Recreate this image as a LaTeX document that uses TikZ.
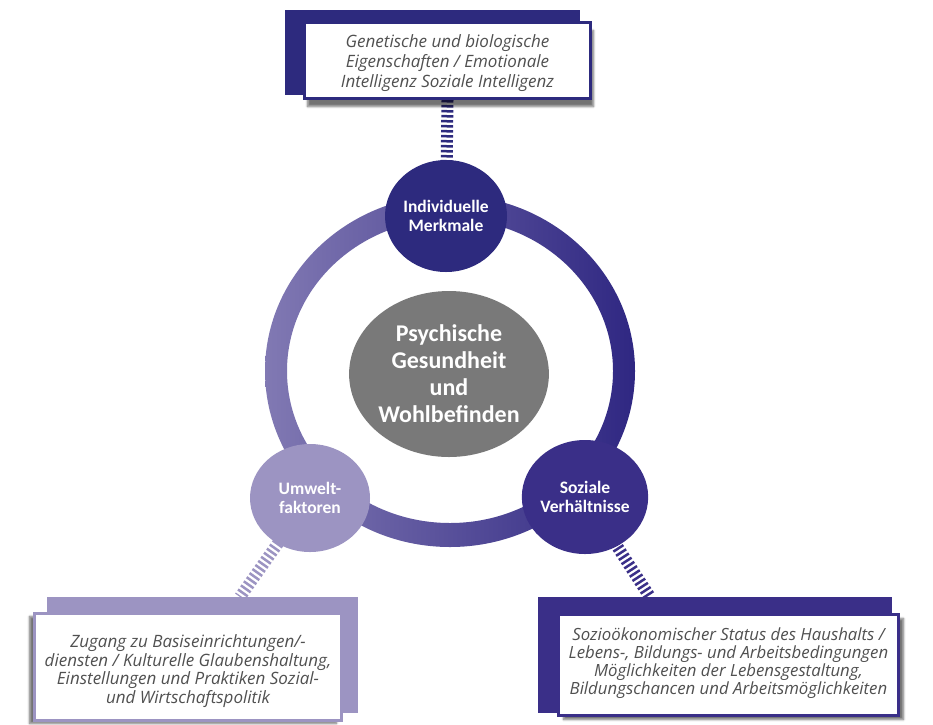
\documentclass[tikz,border=0pt]{standalone}
\usepackage{fontspec}
\setmainfont{Open Sans}
\newfontfamily\circfont{Carlito}
\usetikzlibrary{shapes.geometric,shadows.blur}
\definecolor{navy}{HTML}{2D2A7E}
\definecolor{navyb}{HTML}{3A2F88}
\definecolor{lav}{HTML}{9C94C2}
\definecolor{ringl}{HTML}{8179B3}
\definecolor{ringr}{HTML}{2F2782}
\definecolor{grayc}{HTML}{797979}
\definecolor{txt}{HTML}{505050}
\tikzset{
  circlab/.style={ellipse, inner sep=0pt, text=white, align=center, font=\circfont\bfseries\fontsize{17.5}{19}\selectfont},
  backrect/.style={rectangle, inner sep=0pt, anchor=center},
  frontbox/.style={rectangle, inner sep=0pt, fill=white, line width=3pt},
  boxtext/.style={inner sep=0pt, align=center, text=txt, font=\itshape\fontsize{17}{18.5}\selectfont},
  hatch/.style={line width=12pt, dash pattern=on 2.5pt off 2.5pt}
}
\begin{document}
\begin{tikzpicture}[x=1pt,y=-1pt]
\useasboundingbox (0,0) rectangle (933,724);
% ring
\shade[left color=ringl, right color=ringr, even odd rule]
  (450,371) ellipse [x radius=185pt, y radius=176pt]
  (450,371) ellipse [x radius=163pt, y radius=152pt];
% named ends
\coordinate (lc) at (240,597);
\coordinate (rc) at (650,597);
% centre circle
\node[ellipse, fill=grayc, minimum width=178pt, minimum height=166pt, inner sep=0pt, text=white, align=center,
  font=\circfont\bfseries\fontsize{24}{27}\selectfont] (psy) at (449,374) {Psychische\\Gesundheit\\und\\Wohlbefinden};
% box placeholder and connectors (under circles)
\node[backrect, minimum width=295pt, minimum height=85pt] (tback) at (432.5,52.5) {};
\node[frontbox, minimum width=286pt, minimum height=76pt] (tbox) at (447.5,60.5) {};
\draw[hatch, navy] (tbox.south) -- (446,216);
\draw[hatch, lav] (310,498) -- (lc);
\draw[hatch, navyb] (585,497) -- (rc);
\node[circlab, fill=navy, minimum width=122pt, minimum height=112pt] (ind) at (446,216) {Individuelle\\Merkmale};
\node[circlab, fill=lav, minimum width=120pt, minimum height=108pt] (umw) at (310,498) {Umwelt-\\faktoren};
\node[circlab, fill=navyb, minimum width=124pt, minimum height=114pt] (soz) at (585,497) {Soziale\\Verhältnisse};
% top box
\node[backrect, fill=navy, minimum width=295pt, minimum height=85pt] at (tback) {};
\node[frontbox, draw=navy, minimum width=286pt, minimum height=76pt,
  blur shadow={shadow xshift=3pt, shadow yshift=-8pt, shadow blur steps=7, shadow opacity=55}] (tfront) at (447.5,60.5) {};
\node[boxtext, font=\itshape\fontsize{17}{20}\selectfont] (ttext) at ([yshift=-3pt]tfront.center)
  {Genetische und biologische\\Eigenschaften / Emotionale\\Intelligenz Soziale Intelligenz};
% left box
\node[backrect, fill=lav, minimum width=311pt, minimum height=116pt] (lback) at (202.5,655) {};
\node[frontbox, draw=lav, minimum width=307pt, minimum height=107pt,
  blur shadow={shadow xshift=-5pt, shadow yshift=-3pt, shadow blur steps=6, shadow opacity=55}] (lbox) at (188,667) {};
\node[boxtext] (ltext) at ([yshift=-4pt]lbox.center)
  {Zugang zu Basiseinrichtungen/-\\diensten / Kulturelle Glaubenshaltung,\\Einstellungen und Praktiken Sozial-\\und Wirtschaftspolitik};
% right box
\node[backrect, fill=navyb, minimum width=354pt, minimum height=116pt] (rback) at (715,655) {};
\node[frontbox, draw=navyb, minimum width=340pt, minimum height=101pt,
  blur shadow={shadow xshift=5pt, shadow yshift=-4pt, shadow blur steps=6, shadow opacity=55}] (rbox) at (728.5,665) {};
\node[boxtext, font=\itshape\fontsize{16.8}{18}\selectfont] (rtext) at ([yshift=2pt]rbox.center)
  {Sozioökonomischer Status des Haushalts /\\Lebens-, Bildungs- und Arbeitsbedingungen\\Möglichkeiten der Lebensgestaltung,\\Bildungschancen und Arbeitsmöglichkeiten};
\end{tikzpicture}
\end{document}
